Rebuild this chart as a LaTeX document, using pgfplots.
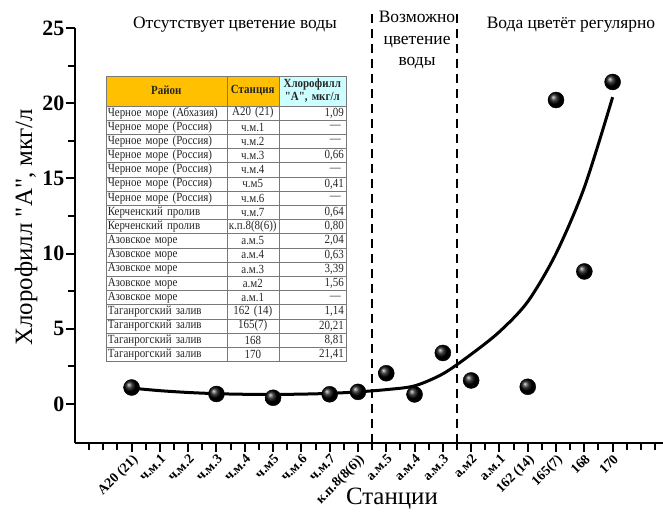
\documentclass[border=0pt]{standalone}
\usepackage{fontspec}
\setmainfont{Liberation Serif}[Ligatures=TeXOff]
\newfontfamily\tablefont{Liberation Serif}[Ligatures=TeXOff, FakeStretch=0.88]
\usepackage{pgfplots}
\pgfplotsset{compat=1.18}
\usetikzlibrary{matrix}
\definecolor{hdrorange}{RGB}{255,192,0}
\definecolor{hdrcyan}{RGB}{204,255,255}
\definecolor{gridgray}{RGB}{120,120,120}

\begin{document}
\begin{tikzpicture}
\begin{axis}[
  scale only axis, width=588bp, height=415bp,
  xmin=-2, xmax=18.78, ymin=-2.6, ymax=25,
  axis lines*=left,
  axis line style={line width=2.4bp},
  clip=false,
  tick align=outside,
  major tick length=9bp, minor tick length=7bp,
  every tick/.style={line width=2bp, black},
  ytick={0,5,...,25}, minor ytick={2.5,7.5,...,22.5},
  xtick={0,...,17},
  xticklabels={{A20 (21)},{ч.м.1},{ч.м.2},{ч.м.3},{ч.м.4},{ч.м5},{ч.м.6},{ч.м.7},{к.п.8(8(6))},{а.м.5},{а.м.4},{а.м.3},{а.м2},{а.м.1},{162 (14)},{165(7)},{168},{170}},
  minor xtick={-1.5,-1,-0.5,0.5,1.5,...,17.5,18,18.5},
  /pgf/number format/assume math mode=true,
  yticklabel style={font=\fontsize{22}{22}\selectfont\bfseries, inner sep=1.5bp},
  xticklabel style={rotate=45, anchor=north east, font=\fontsize{13.8}{15}\selectfont\bfseries, inner sep=1bp},
  ylabel={Хлорофилл "А", мкг/л},
  ylabel style={at={(axis description cs:-0.083,0.52)}, anchor=center, font=\fontsize{25}{28}\selectfont},
  xlabel={Станции},
  xlabel style={at={(axis description cs:0.539,-0.135)}, anchor=center, font=\fontsize{25}{28}\selectfont},
]
% fitted trend curve
\addplot[line width=3bp, black, smooth, no marks] coordinates {
 (0,1.05) (1,0.88) (2,0.76) (3,0.68) (4,0.64) (5,0.63) (6,0.65) (7,0.70)
 (8,0.80) (9,0.95) (10,1.20) (11,2.0) (12,3.3) (13,4.8) (14,6.8) (15,10.0)
 (16,14.4) (17,20.4)};
% measured values
\addplot[only marks, mark=ball, mark size=8bp, mark options={ball color=black}] coordinates {
 (0,1.09) (3,0.66) (5,0.41) (7,0.64) (8,0.80) (9,2.04) (10,0.63) (11,3.39)
 (12,1.56) (14,1.14) (15,20.21) (16,8.81) (17,21.41)};
\draw[line width=2bp, dash pattern=on 9bp off 6bp] (axis cs:8.5,-2.6) -- (axis cs:8.5,26);
\draw[line width=2bp, dash pattern=on 9bp off 6bp] (axis cs:11.5,-2.6) -- (axis cs:11.5,26);
\end{axis}

\node[font=\fontsize{17.5}{20}\selectfont] at (160bp,418bp) {Отсутствует цветение воды};
\node[font=\fontsize{17.5}{22}\selectfont, align=center] at (342bp,403bp) {Возможно\\цветение\\воды};
\node[font=\fontsize{17.5}{20}\selectfont] at (496bp,418bp) {Вода цветёт регулярно};

\matrix[matrix of nodes, anchor=north west, column sep=-0.5bp, row sep=-0.5bp,
  nodes={draw=gridgray, line width=0.5bp, minimum height=14.2bp, inner xsep=2bp, inner ysep=0.3bp,
         font=\tablefont\fontsize{12.5}{12.5}\selectfont, text=black!85, anchor=center},
  column 1/.style={nodes={text width=117bp, align=left}},
  column 2/.style={nodes={text width=48bp, align=center}},
  column 3/.style={nodes={text width=63bp, align=right}},
  row 1/.style={nodes={minimum height=30bp, align=center, font=\tablefont\fontsize{12.5}{13}\selectfont\bfseries, fill=hdrorange}},
  row 1 column 3/.style={nodes={fill=hdrcyan}}
] at (27bp,371bp) {
 Район & Станция & {Хлорофилл\\"А", мкг/л} \\
 Черное море (Абхазия) & А20 (21) & 1,09 \\
 Черное море (Россия) & ч.м.1 & —\hspace*{3bp} \\
 Черное море (Россия) & ч.м.2 & —\hspace*{3bp} \\
 Черное море (Россия) & ч.м.3 & 0,66 \\
 Черное море (Россия) & ч.м.4 & —\hspace*{3bp} \\
 Черное море (Россия) & ч.м5 & 0,41 \\
 Черное море (Россия) & ч.м.6 & —\hspace*{3bp} \\
 Керченский пролив & ч.м.7 & 0,64 \\
 Керченский пролив & к.п.8(8(6)) & 0,80 \\
 Азовское море & а.м.5 & 2,04 \\
 Азовское море & а.м.4 & 0,63 \\
 Азовское море & а.м.3 & 3,39 \\
 Азовское море & а.м2 & 1,56 \\
 Азовское море & а.м.1 & —\hspace*{3bp} \\
 Таганрогский залив & 162 (14) & 1,14 \\
 Таганрогский залив & 165(7) & 20,21 \\
 Таганрогский залив & 168 & 8,81 \\
 Таганрогский залив & 170 & 21,41 \\
};

\pgfresetboundingbox
\path[use as bounding box] (-75bp,-70bp) rectangle (588bp,443bp);
\end{tikzpicture}
\end{document}
